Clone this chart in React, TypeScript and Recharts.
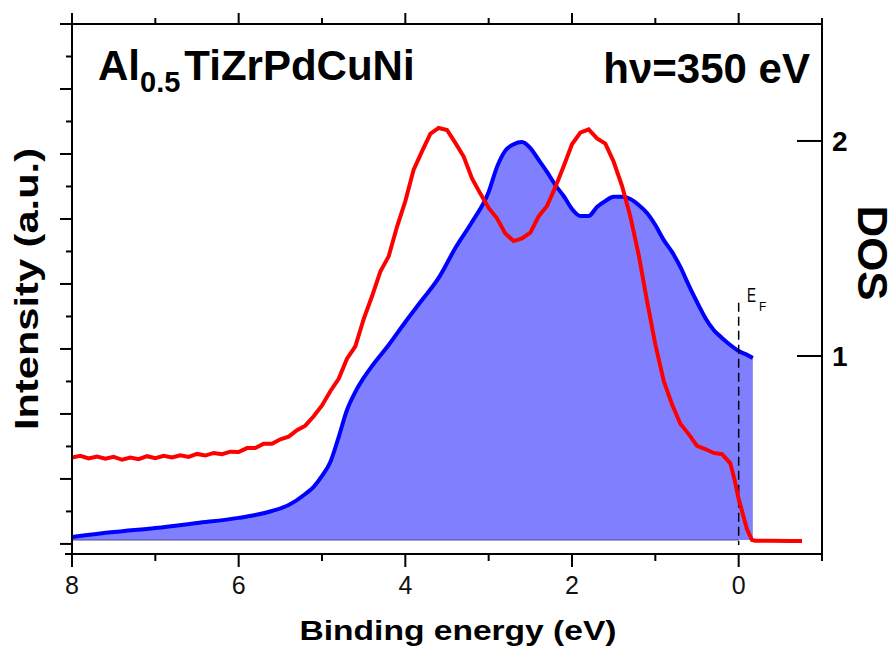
import { ComposedChart, Area, Line, XAxis, YAxis, ReferenceLine } from "recharts";

// photoemission spectrum, binding energy (eV) vs intensity (a.u.)
const spectrumEnergy = [
  8.0, 7.9, 7.8, 7.7, 7.6, 7.5, 7.4, 7.3, 7.2, 7.1,
  7.0, 6.9, 6.8, 6.7, 6.6, 6.5, 6.4, 6.3, 6.2, 6.1,
  6.0, 5.9, 5.8, 5.7, 5.6, 5.5, 5.4, 5.3, 5.2, 5.1,
  5.0, 4.9, 4.8, 4.7, 4.6, 4.5, 4.4, 4.3, 4.2, 4.1,
  4.0, 3.9, 3.8, 3.7, 3.6, 3.5, 3.4, 3.3, 3.2, 3.1,
  3.0, 2.9, 2.8, 2.7, 2.6, 2.5, 2.4, 2.3, 2.2, 2.1,
  2.0, 1.9, 1.8, 1.7, 1.6, 1.5, 1.4, 1.3, 1.2, 1.1,
  1.0, 0.9, 0.8, 0.7, 0.6, 0.5, 0.4, 0.3, 0.2, 0.1,
  0.05, 0.0, -0.05, -0.1, -0.16, -0.2, -0.4, -0.6, -0.76,
];
const spectrumIntensity = [
  2.66, 2.71, 2.63, 2.69, 2.62, 2.68, 2.59, 2.66, 2.61, 2.7,
  2.64, 2.71, 2.66, 2.73, 2.68, 2.77, 2.72, 2.8, 2.76, 2.84,
  2.83, 2.95, 2.95, 3.08, 3.08, 3.22, 3.3, 3.5, 3.64, 3.93,
  4.26, 4.7, 5.08, 5.7, 6.08, 6.92, 7.62, 8.38, 8.85, 9.76,
  10.55, 11.52, 12.08, 12.62, 12.8, 12.74, 12.34, 11.92, 11.25, 10.78,
  10.34, 10.02, 9.55, 9.32, 9.4, 9.58, 10.08, 10.4, 10.98, 11.62,
  12.3, 12.66, 12.76, 12.48, 12.32, 11.76, 11.02, 10.08, 8.9, 7.48,
  6.14, 5.02, 4.3, 3.7, 3.38, 3.02, 2.92, 2.8, 2.76, 2.48,
  1.98, 1.38, 0.92, 0.45, 0.12, 0.1, 0.1, 0.09, 0.09,
];

// calculated density of states
const dosEnergy = [
  8.0, 7.5, 7.0, 6.5, 6.0, 5.8, 5.6, 5.4, 5.2, 5.1, 5.0, 4.9, 4.8, 4.7,
  4.6, 4.5, 4.4, 4.2, 4.0, 3.8, 3.6, 3.4, 3.2, 3.0, 2.9, 2.8, 2.7, 2.6,
  2.5, 2.4, 2.3, 2.2, 2.1, 2.0, 1.9, 1.8, 1.7, 1.6, 1.5, 1.4, 1.3, 1.2,
  1.1, 1.0, 0.9, 0.8, 0.7, 0.6, 0.5, 0.4, 0.3, 0.2, 0.1, 0.0, -0.1, -0.17,
];
const dosValues = [
  0.158, 0.181, 0.2, 0.223, 0.247, 0.26, 0.279, 0.307, 0.358, 0.391, 0.442, 0.507, 0.623, 0.749,
  0.833, 0.898, 0.953, 1.051, 1.158, 1.26, 1.363, 1.502, 1.623, 1.763, 1.879, 1.955, 1.985, 1.995,
  1.967, 1.912, 1.856, 1.795, 1.744, 1.684, 1.651, 1.651, 1.693, 1.721, 1.74, 1.74, 1.73, 1.702,
  1.665, 1.609, 1.54, 1.484, 1.414, 1.33, 1.251, 1.177, 1.121, 1.084, 1.051, 1.023, 1.005, 0.991,
];

const energyTicks = [8, 7, 6, 5, 4, 3, 2, 1, 0, -1];
const intensityTicks = [0, 1, 2, 3, 4, 5, 6, 7, 8, 9, 10, 11, 12, 13, 14, 15];
const dosTicks = [1, 2];

const spectrum = spectrumEnergy.map((e, i) => ({ e, intensity: spectrumIntensity[i] }));
const dos = dosEnergy.map((e, i) => ({ e, dos: dosValues[i] }));

const FONT = "'Liberation Sans', Arial, sans-serif";

const BottomTick = ({ x, y, payload }: any) => {
  const major = payload.value % 2 === 0;
  return (
    <g>
      <line x1={x} x2={x} y1={y} y2={y + (major ? 13 : 7)} stroke="#000" strokeWidth={2} />
      {payload.value === 8 && <line x1={x - 7} x2={x} y1={y} y2={y} stroke="#000" strokeWidth={2} />}
      {major && (
        <text x={x} y={y + 40} textAnchor="middle" fontSize={25} fontFamily={FONT} fill="#111">
          {payload.value}
        </text>
      )}
    </g>
  );
};

const TopTick = ({ x, y, payload }: any) => {
  const major = payload.value % 2 === 0;
  return (
    <g>
      <line x1={x} x2={x} y1={y} y2={y - (major ? 11 : 6)} stroke="#000" strokeWidth={2} />
      {payload.value === 8 && <line x1={x - 12} x2={x} y1={y} y2={y} stroke="#000" strokeWidth={2} />}
    </g>
  );
};

const LeftTick = ({ x, y, payload }: any) => {
  const major = payload.value % 2 === 0;
  return <line x1={x - (major ? 12 : 6)} x2={x} y1={y} y2={y} stroke="#000" strokeWidth={2} />;
};

const RightTick = ({ x, y, payload }: any) => (
  <g>
    <line x1={x - 25} x2={x} y1={y} y2={y} stroke="#000" strokeWidth={2} />
    <text x={x + 10} y={y + 10} fontSize={28} fontWeight="bold" fontFamily={FONT} fill="#000">
      {payload.value}
    </text>
  </g>
);

export default function App() {
  return (
    <div style={{ position: "absolute", left: 0, top: 0, width: 895, height: 649, background: "#fff", fontFamily: FONT }}>
      <ComposedChart width={895} height={649} margin={{ top: 14, right: 63, bottom: 85, left: 62 }}>
        <XAxis
          xAxisId="b"
          dataKey="e"
          type="number"
          domain={[-1, 8]}
          reversed
          allowDataOverflow
          ticks={energyTicks}
          interval={0}
          height={10}
          tickSize={0}
          tickMargin={0}
          tickLine={false}
          tick={<BottomTick />}
          axisLine={{ stroke: "#000", strokeWidth: 2 }}
        />
        <XAxis
          xAxisId="t"
          orientation="top"
          dataKey="e"
          type="number"
          domain={[-1, 8]}
          reversed
          allowDataOverflow
          ticks={energyTicks}
          interval={0}
          height={10}
          tickSize={0}
          tickMargin={0}
          tickLine={false}
          tick={<TopTick />}
          axisLine={{ stroke: "#000", strokeWidth: 2 }}
        />
        <YAxis
          yAxisId="int"
          type="number"
          domain={[-0.31, 16]}
          allowDataOverflow
          ticks={intensityTicks}
          interval={0}
          width={10}
          tickSize={0}
          tickMargin={0}
          tickLine={false}
          tick={<LeftTick />}
          axisLine={{ stroke: "#000", strokeWidth: 2 }}
        />
        <YAxis
          yAxisId="dos"
          orientation="right"
          type="number"
          domain={[0.079, 2.544]}
          allowDataOverflow
          ticks={dosTicks}
          interval={0}
          width={10}
          tickSize={0}
          tickMargin={0}
          tickLine={false}
          tick={<RightTick />}
          axisLine={{ stroke: "#000", strokeWidth: 2 }}
        />
        <Area
          xAxisId="b"
          yAxisId="dos"
          data={dos}
          dataKey="dos"
          type="monotone"
          baseValue={0.144}
          stroke="#0000ff"
          strokeWidth={4}
          fill="#8080ff"
          fillOpacity={1}
          dot={false}
          activeDot={false}
          isAnimationActive={false}
        />
        <ReferenceLine
          xAxisId="b"
          yAxisId="dos"
          segment={[{ x: 8, y: 0.144 }, { x: 0, y: 0.144 }]}
          stroke="#4a4a8c"
          strokeWidth={1.2}
        />
        <ReferenceLine
          xAxisId="b"
          yAxisId="dos"
          segment={[{ x: 0, y: 1.247 }, { x: 0, y: 0.121 }]}
          stroke="#000"
          strokeWidth={1.5}
          strokeDasharray="9 5"
        />
        <Line
          xAxisId="b"
          yAxisId="int"
          data={spectrum}
          dataKey="intensity"
          type="linear"
          stroke="#ff0000"
          strokeWidth={4}
          dot={false}
          activeDot={false}
          isAnimationActive={false}
        />
      </ComposedChart>
      <svg
        width={895}
        height={649}
        style={{ position: "absolute", left: 0, top: 0, pointerEvents: "none" }}
        fontFamily={FONT}
      >
        <text x={98} y={80} fontSize={42} fontWeight="bold" fill="#000">
          Al
          <tspan fontSize={29} dy={12}>0.5</tspan>
          <tspan dy={-12} dx={4}>TiZrPdCuNi</tspan>
        </text>
        <text x={810} y={83} fontSize={42} fontWeight="bold" textAnchor="end" fill="#000">
          hν=350 eV
        </text>
        <text x={747} y={302} fontSize={20} textLength={9} lengthAdjust="spacingAndGlyphs" fill="#000">
          E
        </text>
        <text x={759} y={311} fontSize={12} fill="#000">
          F
        </text>
        <text
          transform="translate(38, 289) rotate(-90)"
          textAnchor="middle"
          fontSize={34}
          fontWeight="bold"
          textLength={282}
          lengthAdjust="spacingAndGlyphs"
          fill="#000"
        >
          Intensity (a.u.)
        </text>
        <text
          transform="translate(858, 253) rotate(90)"
          textAnchor="middle"
          fontSize={42}
          fontWeight="bold"
          textLength={95}
          lengthAdjust="spacingAndGlyphs"
          fill="#000"
        >
          DOS
        </text>
        <text
          x={458}
          y={640}
          textAnchor="middle"
          fontSize={28}
          fontWeight="bold"
          textLength={317}
          lengthAdjust="spacingAndGlyphs"
          fill="#000"
        >
          Binding energy (eV)
        </text>
      </svg>
    </div>
  );
}
